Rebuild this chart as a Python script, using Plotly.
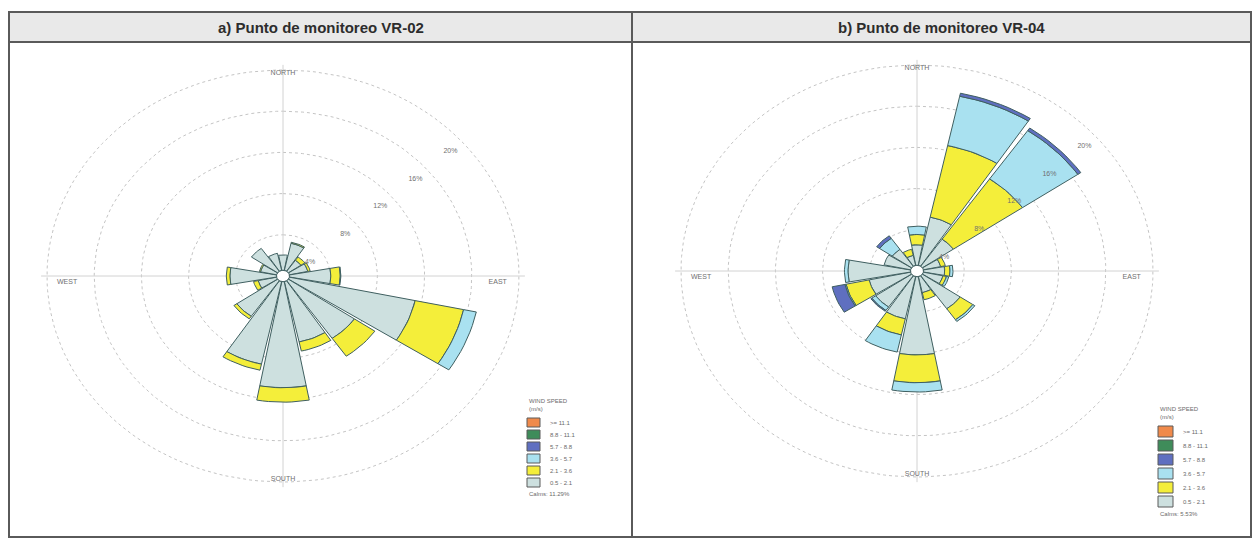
import numpy as np
import plotly.graph_objects as go

# ---- data -------------------------------------------------------------
directions = ["N", "NNE", "NE", "ENE", "E", "ESE", "SE", "SSE",
              "S", "SSW", "SW", "WSW", "W", "WNW", "NW", "NNW"]
speed_bins = ["0.5 - 2.1", "2.1 - 3.6", "3.6 - 5.7", "5.7 - 8.8", "8.8 - 11.1", ">= 11.1"]
bin_colors = ["#cde0df", "#f4ee3a", "#a9e1f0", "#5f6fc0", "#3f8c5a", "#f08a4b"]

# frequency (%) per direction, one list per speed class -- station VR-02
vr02_b1 = [1.5, 2.7, 1.3, 1.6, 3.5, 10.9, 6.8, 6.0, 10.3, 8.2, 4.2, 1.6, 3.95, 1.4, 2.7, 1.7]
vr02_b2 = [0.0, 0.1, 0.4, 0.2, 0.8, 4.2, 2.1, 0.9, 1.4, 0.6, 0.3, 0.4, 0.3, 0.1, 0.0, 0.0]
vr02_b3 = [0.0, 0.0, 0.0, 0.0, 0.05, 1.1, 0.0, 0.0, 0.0, 0.0, 0.0, 0.0, 0.0, 0.0, 0.0, 0.0]
vr02_b4 = [0.0] * 16
vr02_b5 = [0.0] * 16
vr02_b6 = [0.0] * 16
vr02_calms = "Calms: 11.29%"

# frequency (%) per direction, one list per speed class -- station VR-04
vr04_b1 = [2.0, 4.8, 3.2, 1.5, 1.8, 1.7, 3.9, 1.6, 7.6, 4.2, 3.7, 3.6, 5.3, 2.3, 2.0, 1.0]
vr04_b2 = [1.0, 7.1, 7.1, 0.4, 0.45, 0.3, 1.3, 0.7, 2.7, 1.6, 0.0, 2.0, 0.0, 0.0, 0.0, 0.6]
vr04_b3 = [0.8, 4.9, 5.7, 0.0, 0.25, 0.2, 0.2, 0.0, 0.9, 1.7, 0.4, 0.1, 0.3, 0.0, 1.3, 0.0]
vr04_b4 = [0.0, 0.3, 0.3, 0.0, 0.0, 0.0, 0.0, 0.0, 0.0, 0.0, 0.1, 1.1, 0.0, 0.0, 0.3, 0.0]
vr04_b5 = [0.0] * 16
vr04_b6 = [0.0] * 16
vr04_calms = "Calms: 5.53%"

ring_values = [4, 8, 12, 16, 20]
ring_labels = ["4%", "8%", "12%", "16%", "20%"]
compass_labels = ["NORTH", "EAST", "SOUTH", "WEST"]
panel_titles = ["a) Punto de monitoreo VR-02", "b) Punto de monitoreo VR-04"]

# ---- geometry helpers --------------------------------------------------
W, H = 1254, 544
SECTOR = 360 / len(directions)
WEDGE = SECTOR * 0.93
HOLE = 0.55


def px_x(p):
    return p / W


def px_y(p):
    return 1 - p / H


def arc(r, a0, a1, n=10):
    t = np.radians(np.linspace(a0, a1, n))
    return r * np.sin(t), r * np.cos(t)


def wedge(r0, r1, center_deg):
    a0, a1 = center_deg - WEDGE / 2, center_deg + WEDGE / 2
    xo, yo = arc(r1, a0, a1)
    xi, yi = arc(r0, a1, a0)
    x = np.concatenate([xo, xi, xo[:1]])
    y = np.concatenate([yo, yi, yo[:1]])
    return x, y


fig = go.Figure()

panels = [
    dict(bins=[vr02_b1, vr02_b2, vr02_b3, vr02_b4, vr02_b5, vr02_b6], calms=vr02_calms,
         xa="x", ya="y", cx=283, cy=276),
    dict(bins=[vr04_b1, vr04_b2, vr04_b3, vr04_b4, vr04_b5, vr04_b6], calms=vr04_calms,
         xa="x2", ya="y2", cx=917, cy=271),
]

PX_PER_PCT_X = 11.8
PX_PER_PCT_Y = 10.3
AX_RANGE = 22
small_font = dict(size=7, color="#707070", family="Liberation Sans")

for k, p in enumerate(panels):
    xa, ya = p["xa"], p["ya"]
    # reference rings (dotted)
    for rv in ring_values:
        rx, ry = arc(rv, 0, 360, 181)
        fig.add_trace(go.Scatter(x=rx, y=ry, mode="lines", xaxis=xa, yaxis=ya,
                                 line=dict(color="#c4c4c4", width=1, dash="dot"),
                                 hoverinfo="skip", showlegend=False))
    # compass cross
    fig.add_trace(go.Scatter(x=[-20.5, 20.5, None, 0, 0], y=[0, 0, None, -20.5, 20.5],
                             mode="lines", xaxis=xa, yaxis=ya,
                             line=dict(color="#d2d2d2", width=1),
                             hoverinfo="skip", showlegend=False))
    # stacked wedges
    cum = np.zeros(len(directions))
    for b, vals in enumerate(p["bins"]):
        vals = np.asarray(vals, dtype=float)
        for i, v in enumerate(vals):
            if v <= 0:
                continue
            r0 = HOLE + cum[i]
            r1 = r0 + v
            wx, wy = wedge(r0, r1, i * SECTOR)
            fig.add_trace(go.Scatter(x=wx, y=wy, mode="lines", fill="toself",
                                     fillcolor=bin_colors[b], xaxis=xa, yaxis=ya,
                                     line=dict(color="#3f5f60", width=1),
                                     name=speed_bins[b], hoverinfo="name",
                                     showlegend=False))
        cum += vals
    # calm circle in the middle
    hx, hy = arc(HOLE, 0, 360, 41)
    fig.add_trace(go.Scatter(x=hx, y=hy, mode="lines", fill="toself", fillcolor="white",
                             xaxis=xa, yaxis=ya, line=dict(color="#3f5f60", width=1),
                             hoverinfo="skip", showlegend=False))

    # ring labels along the north-east diagonal, just inside each ring
    ang = np.radians(48)
    rl = np.array(ring_values, dtype=float) - 0.9
    fig.add_trace(go.Scatter(x=rl * np.sin(ang), y=rl * np.cos(ang) - 0.7, mode="text",
                             text=ring_labels, textfont=small_font, xaxis=xa, yaxis=ya,
                             hoverinfo="skip", showlegend=False))
    # compass labels
    fig.add_trace(go.Scatter(x=[0, 18.2, 0, -18.3], y=[19.7, -0.6, -19.7, -0.6], mode="text",
                             text=compass_labels, textfont=small_font, xaxis=xa, yaxis=ya,
                             hoverinfo="skip", showlegend=False))

axis_common = dict(visible=False, showgrid=False, zeroline=False, fixedrange=True,
                   range=[-AX_RANGE, AX_RANGE])


def domain_x(cx):
    half = AX_RANGE * PX_PER_PCT_X
    return [px_x(cx - half), px_x(cx + half)]


def domain_y(cy):
    half = AX_RANGE * PX_PER_PCT_Y
    return [px_y(cy + half), px_y(cy - half)]


fig.update_layout(
    xaxis=dict(domain=domain_x(panels[0]["cx"]), **axis_common),
    yaxis=dict(domain=domain_y(panels[0]["cy"]), **axis_common),
    xaxis2=dict(domain=domain_x(panels[1]["cx"]), **axis_common),
    yaxis2=dict(domain=domain_y(panels[1]["cy"]), **axis_common),
)

# ---- frames, headers and legends ---------------------------------------
shapes = []
frame_col = "#5a5a5a"
left, mid, right, top, head_bot, bottom = 9, 632, 1251, 12, 42, 537
for x0, x1 in [(left, mid), (mid, right)]:
    shapes.append(dict(type="rect", xref="paper", yref="paper",
                       x0=px_x(x0), x1=px_x(x1), y0=px_y(head_bot), y1=px_y(top),
                       fillcolor="#e9e9e9", line=dict(width=0), layer="below"))
shapes.append(dict(type="rect", xref="paper", yref="paper",
                   x0=px_x(left), x1=px_x(right), y0=px_y(bottom), y1=px_y(top),
                   line=dict(color=frame_col, width=2)))
shapes.append(dict(type="line", xref="paper", yref="paper",
                   x0=px_x(left), x1=px_x(right), y0=px_y(head_bot), y1=px_y(head_bot),
                   line=dict(color=frame_col, width=2)))
shapes.append(dict(type="line", xref="paper", yref="paper",
                   x0=px_x(mid), x1=px_x(mid), y0=px_y(bottom), y1=px_y(top),
                   line=dict(color=frame_col, width=2)))

annotations = []
for title, cxh in zip(panel_titles, [(left + mid) / 2, (mid + right) / 2]):
    annotations.append(dict(x=px_x(cxh), y=px_y(27), xref="paper", yref="paper",
                            xanchor="center", yanchor="middle",
                            text="<b>" + title + "</b>", showarrow=False,
                            font=dict(size=15, color="#2d2d2d", family="Liberation Sans")))

legend_specs = [
    dict(x=527, y=396, dy=12, sw=13, sh=9, calms=vr02_calms),
    dict(x=1158, y=404, dy=14, sw=15, sh=11, calms=vr04_calms),
]
leg_font = dict(size=6, color="#6a6a6a", family="Liberation Sans")
for spec in legend_specs:
    lx, ly, dy = spec["x"], spec["y"], spec["dy"]
    annotations.append(dict(x=px_x(lx), y=px_y(ly), xref="paper", yref="paper",
                            text="WIND SPEED<br>(m/s)", showarrow=False, align="left",
                            xanchor="left", yanchor="top", font=leg_font))
    order = list(range(len(speed_bins)))[::-1]
    for j, b in enumerate(order):
        y0 = ly + 22 + j * dy
        shapes.append(dict(type="rect", xref="paper", yref="paper",
                           x0=px_x(lx), x1=px_x(lx + spec["sw"]),
                           y0=px_y(y0 + spec["sh"]), y1=px_y(y0),
                           fillcolor=bin_colors[b], line=dict(color="#5a5a5a", width=1)))
        annotations.append(dict(x=px_x(lx + spec["sw"] + 8), y=px_y(y0 + spec["sh"] / 2),
                                xref="paper", yref="paper", text=speed_bins[b],
                                showarrow=False, xanchor="left", yanchor="middle",
                                font=leg_font))
    annotations.append(dict(x=px_x(lx), y=px_y(ly + 22 + 6 * dy + 4), xref="paper", yref="paper",
                            text=spec["calms"], showarrow=False, xanchor="left",
                            yanchor="middle", font=leg_font))

fig.update_layout(
    width=W, height=H, margin=dict(l=0, r=0, t=0, b=0),
    paper_bgcolor="white", plot_bgcolor="rgba(0,0,0,0)",
    showlegend=False, shapes=shapes, annotations=annotations,
)

fig.write_html("out.html")
